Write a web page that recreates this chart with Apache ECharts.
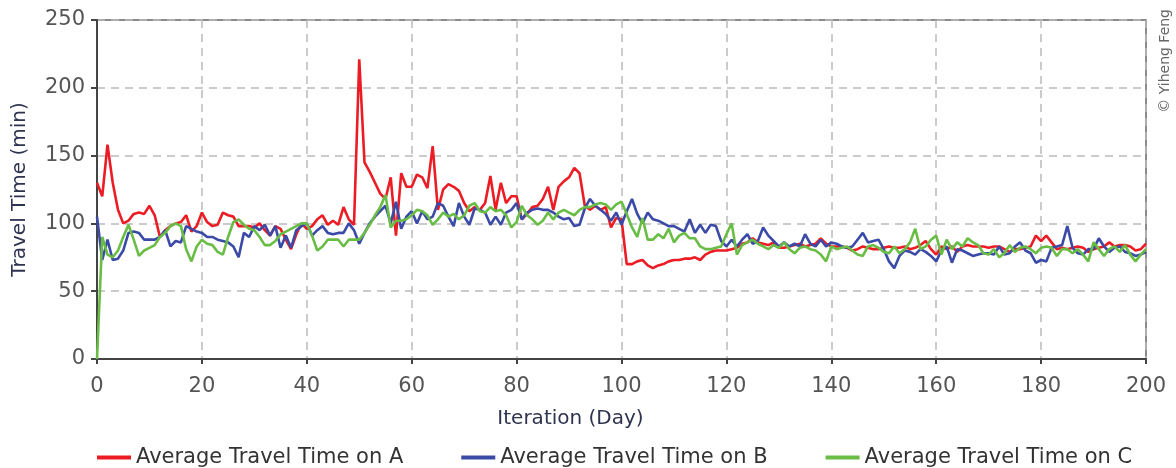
<!DOCTYPE html>
<html>
<head>
<meta charset="utf-8">
<script src="https://cdn.jsdelivr.net/npm/echarts@6/dist/echarts.min.js"></script>
<style>
html,body{margin:0;padding:0;background:#fff;}
#chart{width:1176px;height:468px;}
</style>
</head>
<body>
<div id="chart"></div>
<script>
const seriesNames = ['Average Travel Time on A', 'Average Travel Time on B', 'Average Travel Time on C'];
const xTicks = [0, 20, 40, 60, 80, 100, 120, 140, 160, 180, 200];
const yTicks = [0, 50, 100, 150, 200, 250];

const travelA = [130,120,158,130,110,100,102,107,108,107,
113,106,90,95,98,100,101,106,94,98,
108,101,98,99,108,106,105,98,98,98,
97,100,95,91,98,96,88,81,92,100,
96,98,103,106,99,102,99,112,103,99,
221,145,138,130,122,118,134,91,137,127,
127,136,134,126,157,110,125,129,127,124,
115,109,112,110,115,135,110,130,115,120,
120,103,107,112,113,118,127,110,127,131,
134,141,137,113,110,113,110,112,97,104,
103,70,70,72,73,69,67,69,70,72,
73,73,74,74,75,73,77,79,80,80,
80,81,82,85,86,89,86,85,84,86,
82,82,83,84,85,83,84,85,89,85,
83,83,83,82,80,81,83,82,81,81,
82,83,82,82,83,81,82,84,87,81,
77,83,81,83,79,83,84,83,83,83,
82,83,83,81,79,81,81,82,83,91,
87,91,86,81,82,81,82,83,82,79,
81,82,83,86,83,84,84,83,80,81,85];

const travelB = [105,73,88,73,74,80,93,94,93,88,
88,88,90,95,83,87,86,98,96,94,
93,90,90,88,87,86,83,75,93,90,
98,95,99,91,98,82,91,82,95,98,
100,91,95,98,93,92,93,93,100,95,
85,93,100,105,109,113,100,116,96,105,
109,100,109,103,105,115,113,105,98,115,
105,99,111,110,108,99,105,99,108,110,
115,103,108,110,111,110,110,108,105,103,
104,98,99,111,118,113,110,107,102,108,
99,109,118,107,100,108,103,102,100,98,
98,96,94,103,93,99,93,99,98,87,
83,88,83,88,92,85,87,97,91,87,
83,86,83,85,83,92,85,83,88,83,
86,85,83,82,83,88,93,86,87,88,
81,72,67,76,80,79,77,81,79,76,
72,80,83,71,81,80,78,76,77,78,
78,77,83,77,78,83,86,80,78,71,
73,72,82,83,84,98,82,78,77,81,
81,89,83,79,82,83,79,78,76,77,79];

const travelC = [0,90,77,75,80,90,99,88,76,80,
82,84,90,93,98,100,98,81,72,83,
88,85,84,79,77,90,101,103,99,96,
95,90,84,84,87,92,94,96,98,100,
100,91,80,83,88,88,88,83,88,88,
88,93,99,106,112,121,97,102,102,103,
106,110,109,106,99,103,108,105,107,103,
106,113,115,109,108,112,109,110,106,97,
101,113,106,103,99,102,108,103,108,110,
108,106,110,112,112,114,115,114,110,114,
116,107,97,90,104,88,88,92,89,96,
86,91,93,89,89,83,81,81,82,83,
92,100,77,84,86,88,85,83,81,84,
82,86,81,78,82,83,81,80,77,72,
83,81,82,83,80,77,76,83,84,82,
79,78,83,78,81,86,96,81,83,88,
91,77,88,81,86,83,89,86,84,78,
77,81,75,78,84,79,82,83,81,78,
82,83,82,76,81,81,78,81,77,72,
86,81,76,81,83,79,84,77,72,77,81];

const colors = ['#ec1c24', '#3a4aa6', '#69bd45'];
const allData = [travelA, travelB, travelC];

const chart = echarts.init(document.getElementById('chart'), null, {renderer: 'canvas'});
const fontFam = 'DejaVu Sans';
chart.setOption({
  animation: false,
  backgroundColor: '#ffffff',
  grid: {left: 97, right: 30, top: 20, bottom: 109, show: true, borderColor: '#666', borderWidth: 1.5, backgroundColor: 'transparent'},
  legend: {
    top: 447, left: 97, padding: 0,
    itemWidth: 34, itemHeight: 4, itemGap: 58,
    icon: 'rect',
    textStyle: {fontFamily: fontFam, fontSize: 21, color: '#333'},
    data: seriesNames
  },
  xAxis: {
    type: 'value', min: xTicks[0], max: xTicks[xTicks.length - 1], interval: 20,
    name: 'Iteration (Day)', nameLocation: 'middle', nameGap: 50,
    nameTextStyle: {fontFamily: fontFam, fontSize: 20, color: '#2e3350', padding: [0, 102, 0, 0]},
    axisLine: {lineStyle: {color: '#444', width: 2}},
    axisTick: {show: true, length: 5, lineStyle: {color: '#444', width: 2}},
    axisLabel: {fontFamily: fontFam, fontSize: 21, color: '#555', margin: 17},
    splitLine: {show: true, lineStyle: {color: '#bbb', type: [8, 6], width: 1.5}}
  },
  yAxis: {
    type: 'value', min: yTicks[0], max: yTicks[yTicks.length - 1], interval: 50,
    name: 'Travel Time (min)', nameLocation: 'middle', nameGap: 67, nameRotate: 90,
    nameTextStyle: {fontFamily: fontFam, fontSize: 20, color: '#2e3350'},
    axisLine: {show: true, lineStyle: {color: '#444', width: 2}},
    axisTick: {show: true, length: 6, lineStyle: {color: '#444', width: 2}},
    axisLabel: {fontFamily: fontFam, fontSize: 21, color: '#555', margin: 12},
    splitLine: {show: true, lineStyle: {color: '#bbb', type: [8, 6], width: 1.5}}
  },
  graphic: [{
    type: 'text', left: 1158, top: 9, rotation: Math.PI / 2,
    style: {text: '© Yiheng Feng', fontFamily: fontFam, fontSize: 14, fill: '#666'}
  }],
  series: allData.map((d, k) => ({
    name: seriesNames[k], type: 'line', showSymbol: false, symbol: 'none',
    data: d.map((v, i) => [i, v]),
    lineStyle: {color: colors[k], width: 2.6},
    itemStyle: {color: colors[k]}
  }))
});
</script>
</body>
</html>
